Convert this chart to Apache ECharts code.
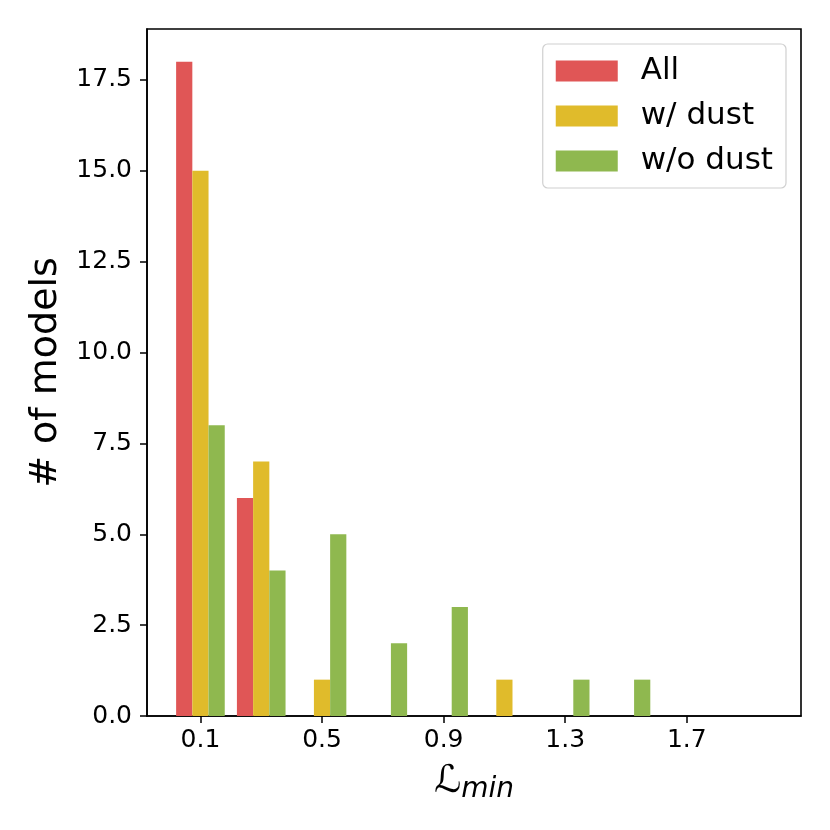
<!DOCTYPE html>
<html>
<head>
<meta charset="utf-8">
<script src="https://cdn.jsdelivr.net/npm/echarts@6/dist/echarts.min.js"></script>
<style>
  html, body { margin: 0; padding: 0; background: #fff; }
  #hist { width: 830px; height: 830px; }
</style>
</head>
<body>
<div id="hist"></div>
<script>
  // histogram bins (left edges), width 0.2
  const binStarts = [0.0, 0.2, 0.4, 0.6, 0.8, 1.0, 1.2, 1.4, 1.6, 1.8]
  const binWidth = 0.2
  const countsAll = [18, 6, 0, 0, 0, 0, 0, 0, 0, 0]
  const countsDust = [15, 7, 1, 0, 0, 1, 0, 0, 0, 0]
  const countsNoDust = [8, 4, 5, 2, 3, 0, 1, 1, 0, 0]
  const seriesNames = ['All', 'w/ dust', 'w/o dust']
  const seriesColors = ['#e05656', '#e0bb2b', '#8fb84f']
  const xTicks = [0.1, 0.5, 0.9, 1.3, 1.7]
  const yTicks = [0, 2.5, 5, 7.5, 10, 12.5, 15, 17.5]

  const font = 'DejaVu Sans'
  // matplotlib style: bars fill 80% of bin, split between 3 datasets
  const barW = binWidth * 0.8 / 3

  function makeSeries(counts, k) {
    const data = counts.map(function (c, i) {
      const x0 = binStarts[i] + binWidth * 0.1 + k * barW
      return [x0, x0 + barW, c]
    })
    return {
      name: seriesNames[k],
      type: 'custom',
      data: data,
      encode: { x: [0, 1], y: 2 },
      itemStyle: { color: seriesColors[k] },
      renderItem: function (params, api) {
        const p0 = api.coord([api.value(0), api.value(2)])
        const p1 = api.coord([api.value(1), 0])
        return {
          type: 'rect',
          shape: { x: p0[0], y: p0[1], width: p1[0] - p0[0], height: p1[1] - p0[1] },
          style: { fill: seriesColors[k] }
        }
      }
    }
  }

  const chart = echarts.init(document.getElementById('hist'))
  const tickStyle = { show: true, inside: false, length: 7, lineStyle: { color: '#000', width: 1.5 } }
  const lineStyle = { show: true, onZero: false, lineStyle: { color: '#000', width: 1.6 } }

  chart.setOption({
    animation: false,
    textStyle: { fontFamily: font },
    grid: {
      left: 147, right: 29, top: 29, bottom: 114,
      show: true, borderColor: '#000', borderWidth: 1.6, backgroundColor: 'transparent'
    },
    legend: {
      orient: 'vertical',
      right: 44, top: 44,
      icon: 'rect',
      itemWidth: 62, itemHeight: 21, itemGap: 11,
      padding: [10, 13, 10, 13],
      borderColor: '#d0d0d0', borderWidth: 1.2, borderRadius: 5,
      backgroundColor: '#fff',
      textStyle: { fontFamily: font, fontSize: 31, color: '#000', lineHeight: 34, padding: [0, 0, 0, 18] },
      data: seriesNames
    },
    xAxis: {
      type: 'value',
      min: -0.0758, max: 2.0758,
      splitLine: { show: false },
      axisLine: lineStyle,
      axisTick: Object.assign({ customValues: xTicks }, tickStyle),
      axisLabel: {
        customValues: xTicks,
        fontSize: 25, color: '#000', margin: 12,
        formatter: function (v) { return v.toFixed(1) }
      },
      name: '{l|ℒ}{s|min}',
      nameLocation: 'middle',
      nameGap: 44,
      nameTextStyle: {
        rich: {
          l: { fontSize: 38, fontFamily: font, color: '#000', lineHeight: 44 },
          s: { fontSize: 28, fontFamily: font, fontStyle: 'italic', color: '#000', lineHeight: 30, padding: [16, 0, 0, 0] }
        }
      }
    },
    yAxis: {
      type: 'value',
      min: 0, max: 18.9,
      splitLine: { show: false },
      axisLine: lineStyle,
      axisTick: Object.assign({ customValues: yTicks }, tickStyle),
      axisLabel: {
        customValues: yTicks,
        fontSize: 25, color: '#000', margin: 15,
        formatter: function (v) { return v.toFixed(1) }
      },
      name: '# of models',
      nameLocation: 'middle',
      nameGap: 76,
      nameTextStyle: { fontSize: 38, color: '#000', fontFamily: font }
    },
    series: [
      makeSeries(countsAll, 0),
      makeSeries(countsDust, 1),
      makeSeries(countsNoDust, 2)
    ]
  })
</script>
</body>
</html>
